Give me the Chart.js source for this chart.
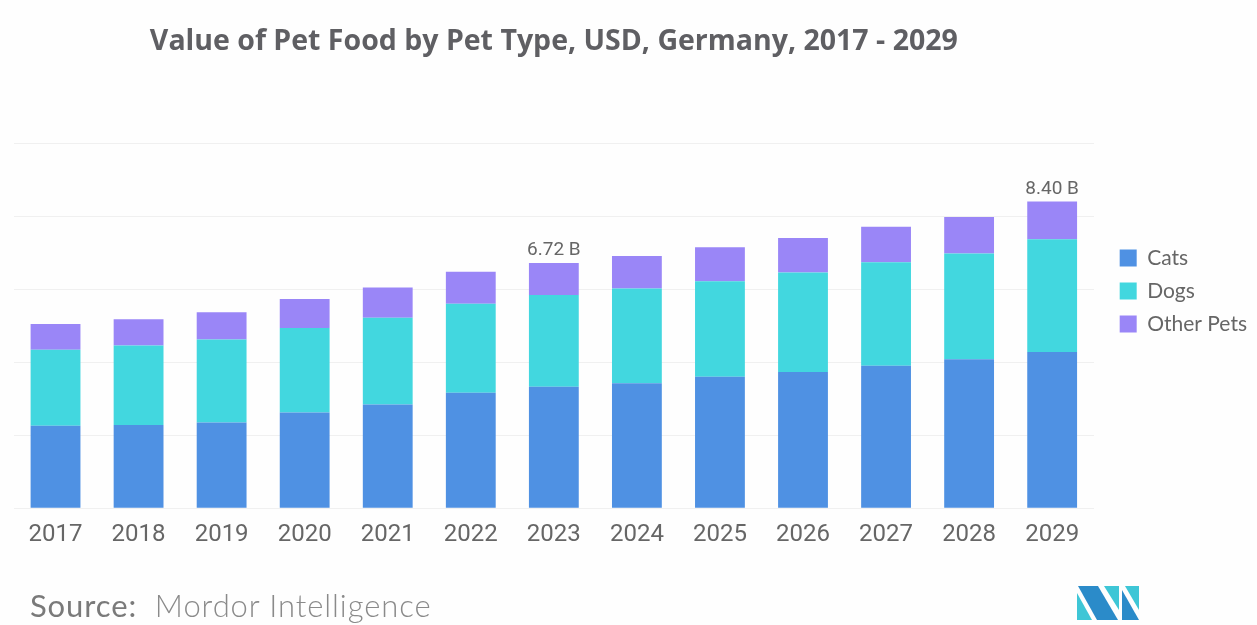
<!DOCTYPE html>
<html>
<head>
<meta charset="utf-8">
<title>Pet Food Germany</title>
<script src="https://cdn.jsdelivr.net/npm/chart.js@4.4.1/dist/chart.umd.min.js"></script>
<style>
  html, body { margin: 0; padding: 0; background: #fefefe; }
  #wrap { position: relative; width: 1257px; height: 625px; }
  #myChart { position: absolute; left: 0; top: 0; }
  #source { position: absolute; left: 30px; top: 586px; font-family: Lato, sans-serif; font-size: 31px; letter-spacing: 0.9px; color: #7a7a7a; white-space: nowrap; }
  #source span { font-weight: 300; color: #8a8a8a; }
  #logo { position: absolute; left: 1077px; top: 586px; }
</style>
</head>
<body>
<div id="wrap">
  <canvas id="myChart" width="1257" height="625"></canvas>
  <div id="source">Source:&nbsp; <span>Mordor Intelligence</span></div>
  <svg id="logo" width="62" height="34" viewBox="0 0 62 34">
    <polygon points="0,7 15,34 0,34" fill="#3ec6d6"/>
    <polygon points="1,0 21,0 41,34 20,34" fill="#2b8bc9"/>
    <polygon points="27,0 42,0 42,24" fill="#3ec6d6"/>
    <polygon points="45,4 62,34 45,34" fill="#2b8bc9"/>
    <polygon points="48,0 62,0 62,24" fill="#3ec6d6"/>
  </svg>
</div>

<script>
// values in billions of USD
var years = ['2017', '2018', '2019', '2020', '2021', '2022', '2023', '2024', '2025', '2026', '2027', '2028', '2029'];
var cats = [2.26, 2.28, 2.35, 2.62, 2.84, 3.16, 3.33, 3.42, 3.60, 3.73, 3.90, 4.08, 4.28];
var dogs = [2.08, 2.18, 2.27, 2.32, 2.38, 2.44, 2.51, 2.60, 2.62, 2.73, 2.84, 2.90, 3.09];
var otherPets = [0.71, 0.72, 0.75, 0.79, 0.83, 0.88, 0.88, 0.89, 0.93, 0.94, 0.97, 1.00, 1.03];
var labelledYears = ['2023', '2029'];

var ctx = document.getElementById('myChart');

// writes the stacked total above the chosen bars
var totalLabels = {
  id: 'totalLabels',
  afterDatasetsDraw: function(chart) {
    var c = chart.ctx;
    var topMeta = chart.getDatasetMeta(chart.data.datasets.length - 1);
    c.save();
    c.font = '19px Roboto';
    c.fillStyle = '#666666';
    c.textAlign = 'center';
    c.textBaseline = 'alphabetic';
    labelledYears.forEach(function(year) {
      var i = years.indexOf(year);
      var total = cats[i] + dogs[i] + otherPets[i];
      var bar = topMeta.data[i];
      c.fillText(total.toFixed(2) + ' B', bar.x, bar.y - 8);
    });
    c.restore();
  }
};

var myChart = new Chart(ctx, {
  type: 'bar',
  data: {
    labels: years,
    datasets: [
      { label: 'Cats', data: cats, backgroundColor: '#4f91e3' },
      { label: 'Dogs', data: dogs, backgroundColor: '#42d7df' },
      { label: 'Other Pets', data: otherPets, backgroundColor: '#9a86f7' }
    ]
  },
  options: {
    responsive: false,
    animation: false,
    layout: { padding: { top: 16, left: 14, right: 0, bottom: 64 } },
    datasets: { bar: { categoryPercentage: 1, barPercentage: 0.6 } },
    scales: {
      x: {
        stacked: true,
        grid: { display: false, drawTicks: false },
        border: { display: false },
        ticks: { color: '#666666', font: { family: 'Roboto', size: 24 }, padding: 12 }
      },
      y: {
        stacked: true,
        position: 'right',
        min: 0,
        max: 10,
        ticks: { display: false, stepSize: 2 },
        grid: { color: '#f0f0f0', drawTicks: false },
        border: { display: false },
        afterFit: function(scale) { scale.width = 14; }
      }
    },
    plugins: {
      title: {
        display: true,
        fullSize: false,
        text: 'Value of Pet Food by Pet Type, USD, Germany, 2017 - 2029',
        color: '#5f5f63',
        font: { family: 'Open Sans', size: 28.5, weight: 'bold' },
        padding: { top: 9, bottom: 84 }
      },
      legend: {
        position: 'right',
        align: 'start',
        fullSize: false,
        title: { display: true, text: '', padding: { top: 0, bottom: 78 } },
        labels: {
          color: '#666666',
          boxWidth: 17,
          boxHeight: 17,
          padding: 12,
          font: { family: 'Lato', size: 21 }
        }
      },
      tooltip: { enabled: false }
    }
  },
  plugins: [totalLabels]
});
</script>
</body>
</html>
